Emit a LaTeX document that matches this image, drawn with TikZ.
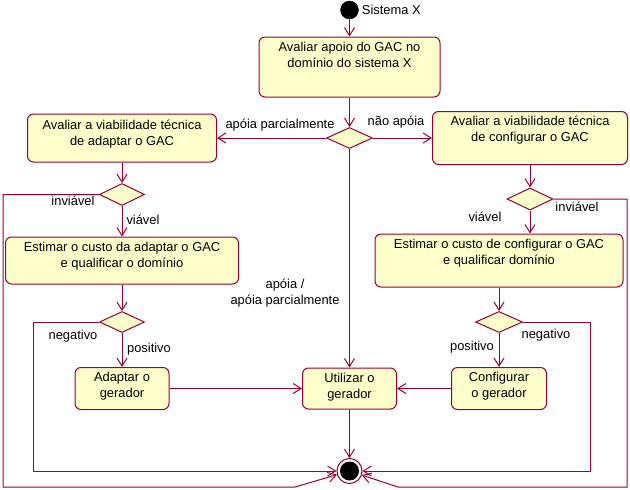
\documentclass[tikz,border=0pt]{standalone}
\usepackage{fontspec}
\setmainfont{Liberation Sans}
\usetikzlibrary{arrows.meta,positioning,shapes.geometric}
\definecolor{linha}{HTML}{990033}
\definecolor{fundo}{HTML}{FFFFCC}

\begin{document}
\begin{tikzpicture}[
        x=1pt, y=-1pt,
        % --- estilos ---
        every node/.style={font=\fontsize{12.9}{16}\selectfont, text=black},
        acao/.style={draw=linha, fill=fundo, line width=1pt, rounded corners=6pt},
        texto/.style={align=center, inner sep=0pt},
        decisao/.style={diamond, draw=linha, fill=fundo, line width=1pt, inner sep=0pt},
        inicio/.style={circle, fill=black, draw=black, minimum size=18pt, inner sep=0pt},
        fim/.style={circle, fill=white, draw=linha, line width=1pt, minimum size=25pt, inner sep=0pt},
        rotulo/.style={inner sep=1pt},
        seta/.style={draw=linha, line width=1pt, -{Straight Barb[length=8pt, width=10pt]}},
        linha/.style={draw=linha, line width=1pt}
    ]
    \useasboundingbox (0,0) rectangle (630,490);

    % inicio e fim
    \node[inicio] (ini) at (349.5,10) {};
    \node[rotulo, right=2pt of ini] (sis) {Sistema X};
    \node[fim] (fim) at (349.5,471) {};
    \fill[black] (fim.center) circle (9.5);

    % --- atividades ---
    \node[acao, minimum width=181pt, minimum height=60pt] (avaliar) at (349.5,67) {};
    \node[texto, below=5pt of avaliar.north] (tavaliar) {Avaliar apoio do GAC no\\domínio do sistema X};

    \node[acao, minimum width=189pt, minimum height=48pt] (viab1) at (122,138) {};
    \node[texto, below=6pt of viab1.north] (tviab1) {Avaliar a viabilidade técnica\\de adaptar o GAC};

    \node[acao, minimum width=195pt, minimum height=53pt] (viab2) at (530,138) {};
    \node[texto, below=5pt of viab2.north] (tviab2) {Avaliar a viabilidade técnica\\de configurar o GAC};

    \node[acao, minimum width=233pt, minimum height=47pt] (custo1) at (122,260.5) {};
    \node[texto, below=5pt of custo1.north] (tcusto1) {Estimar o custo da adaptar o GAC\\e qualificar o domínio};

    \node[acao, minimum width=248pt, minimum height=53pt] (custo2) at (499,260.5) {};
    \node[texto, below=5pt of custo2.north] (tcusto2) {Estimar o custo de configurar o GAC\\e qualificar domínio};

    \node[acao, minimum width=94pt, minimum height=42pt] (adaptar) at (122,388.5) {};
    \node[texto, below=5pt of adaptar.north] (tadaptar) {Adaptar o\\gerador};

    \node[acao, minimum width=94pt, minimum height=41pt] (utilizar) at (349.5,388.5) {};
    \node[texto, below=5pt of utilizar.north] (tutilizar) {Utilizar o\\gerador};

    \node[acao, minimum width=95pt, minimum height=42pt] (configurar) at (499,388.5) {};
    \node[texto, below=5pt of configurar.north] (tconfigurar) {Configurar\\o gerador};

    % --- decisoes ---
    \node[decisao, minimum width=46pt, minimum height=21pt] (d1) at (349.5,138) {};
    \node[decisao, minimum width=45pt, minimum height=22pt] (d2) at (122,194.5) {};
    \node[decisao, minimum width=46pt, minimum height=22pt] (d3) at (530,199) {};
    \node[decisao, minimum width=45pt, minimum height=21pt] (d4) at (122,322) {};
    \node[decisao, minimum width=47pt, minimum height=21pt] (d5) at (499,322) {};

    % pontos de dobra
    \coordinate (e1) at (3,487);
    \coordinate (e2) at (295,487);
    \coordinate (e3) at (33,471);
    \coordinate (r1) at (627,487);
    \coordinate (r2) at (398,487);
    \coordinate (r3) at (590,471);

    % --- transicoes ---
    \draw[seta] (ini) -- (avaliar);
    \draw[seta] (avaliar) -- (d1);
    \draw[seta] (d1) -- (viab1);
    \draw[seta] (d1) -- (viab2);
    \draw[seta] (d1) -- (utilizar);
    \draw[seta] (viab1) -- (d2);
    \draw[seta] (d2) -- (custo1);
    \draw[seta] (custo1) -- (d4);
    \draw[seta] (d4) -- (adaptar);
    \draw[seta] (adaptar) -- (utilizar);
    \draw[seta] (viab2) -- (d3);
    \draw[seta] (d3) -- (d3 |- custo2.north);
    \draw[seta] (custo2) -- (d5);
    \draw[seta] (d5) -- (configurar);
    \draw[seta] (configurar) -- (utilizar);
    \draw[seta] (utilizar) -- (fim);
    \draw[seta] (d2.west) -| (e1) -- (e2) -- (fim);
    \draw[seta] (d4.west) -| (e3) -- (fim);
    \draw[seta] (d3.east) -| (r1) -- (r2) -- (fim);
    \draw[seta] (d5.east) -| (r3) -- (fim);

    % --- rotulos ---
    \node[rotulo] (lparc) at (280,125) {apóia parcialmente};
    \node[rotulo] (lnao) at (396,122) {não apóia};
    \node[rotulo, align=center] (lapoia) at (285,293) {apóia /\\apóia parcialmente};
    \node[rotulo] (linv1) at (73,201) {inviável};
    \node[rotulo] (lvia1) at (143,220) {viável};
    \node[rotulo] (linv2) at (577,207) {inviável};
    \node[rotulo] (lvia2) at (485,217) {viável};
    \node[rotulo] (lneg1) at (73,336) {negativo};
    \node[rotulo] (lpos1) at (149,349) {positivo};
    \node[rotulo] (lneg2) at (546,335) {negativo};
    \node[rotulo] (lpos2) at (472,347) {positivo};
\end{tikzpicture}
\end{document}
